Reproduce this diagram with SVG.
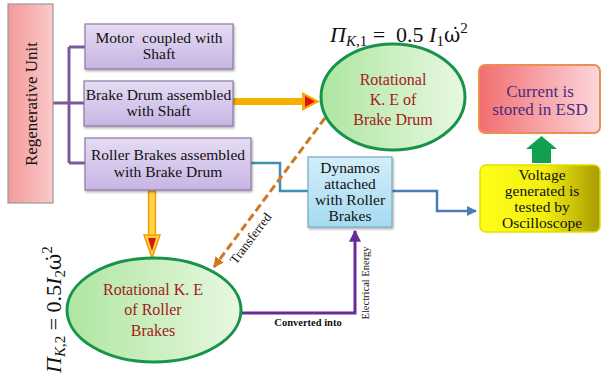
<svg xmlns="http://www.w3.org/2000/svg" width="601" height="378" viewBox="0 0 601 378" font-family="Liberation Serif, Times New Roman, serif">
  <defs>
    <linearGradient id="gPink" x1="0" y1="0" x2="1" y2="0">
      <stop offset="0" stop-color="#f39a9a"/>
      <stop offset="1" stop-color="#fbc9c9"/>
    </linearGradient>
    <linearGradient id="gLav" x1="0" y1="0" x2="0" y2="1">
      <stop offset="0" stop-color="#e6dcf4"/>
      <stop offset="1" stop-color="#c6b5e3"/>
    </linearGradient>
    <linearGradient id="gGreen" x1="0" y1="0" x2="1" y2="0">
      <stop offset="0" stop-color="#aee6a0"/>
      <stop offset="1" stop-color="#e8f8e2"/>
    </linearGradient>
    <linearGradient id="gRed" x1="0" y1="0" x2="1" y2="0">
      <stop offset="0" stop-color="#f26e6e"/>
      <stop offset="1" stop-color="#fcd6dc"/>
    </linearGradient>
    <linearGradient id="gYellow" x1="0" y1="0" x2="1" y2="0">
      <stop offset="0" stop-color="#ffff1a"/>
      <stop offset="0.55" stop-color="#f2ee10"/>
      <stop offset="1" stop-color="#a89a00"/>
    </linearGradient>
    <linearGradient id="gBlue" x1="0" y1="0" x2="0" y2="1">
      <stop offset="0" stop-color="#d2eefa"/>
      <stop offset="1" stop-color="#a6daf0"/>
    </linearGradient>
    <filter id="shadow" x="-10%" y="-10%" width="125%" height="130%">
      <feDropShadow dx="1" dy="1.5" stdDeviation="1" flood-color="#000" flood-opacity="0.35"/>
    </filter>
    <marker id="arrPurple" viewBox="0 0 10 10" refX="9" refY="5" markerWidth="4" markerHeight="4" orient="auto" markerUnits="strokeWidth">
      <path d="M0,0 L10,5 L0,10 z" fill="#6a2a9a"/>
    </marker>
    <marker id="arrBlue" viewBox="0 0 10 10" refX="9" refY="5" markerWidth="4" markerHeight="4" orient="auto" markerUnits="strokeWidth">
      <path d="M0,0 L10,5 L0,10 z" fill="#4a7ab8"/>
    </marker>
    <marker id="arrOrange" viewBox="0 0 10 10" refX="9" refY="5" markerWidth="3.5" markerHeight="3.5" orient="auto" markerUnits="strokeWidth">
      <path d="M0,0 L10,5 L0,10 z" fill="#d07820"/>
    </marker>
  </defs>
  <style>
    .box { font-size: 15.5px; fill: #111; text-anchor: middle; }
    .ell { font-size: 16px; fill: #a51a1a; text-anchor: middle; }
    .lav { fill: url(#gLav); stroke: #8a7aa6; stroke-width: 1.2; filter: url(#shadow); }
    .oval { fill: url(#gGreen); stroke: #17944a; stroke-width: 3; }
    .small { fill: #111; }
    .math { font-size: 22px; fill: #111; }
    .it { font-style: italic; }
    .sub { font-size: 15px; }
    .omega { font-family: "DejaVu Serif", serif; font-size: 20px; }
  </style>

  <!-- connectors -->
  <g id="connectors" fill="none">
    <!-- tree from the regenerative unit -->
    <path d="M53,103 H84 M69,47 V163 M69,47 H85 M69,163 H85" stroke="#7a5a9a" stroke-width="3"/>
    <!-- roller brakes to dynamos -->
    <path d="M251,163 H280 V191 H308" stroke="#3e90b0" stroke-width="2.5"/>
    <!-- dynamos to oscilloscope -->
    <path d="M392,191 H437 V211 H476" stroke="#4a7ab8" stroke-width="2.5" marker-end="url(#arrBlue)"/>
    <!-- converted into electrical energy -->
    <path d="M242,313 H355 V231" stroke="#6a2a9a" stroke-width="3" marker-end="url(#arrPurple)"/>
    <!-- transferred (dashed) -->
    <path d="M325,118 L214,267" stroke="#d07820" stroke-width="3" stroke-dasharray="8,4" marker-end="url(#arrOrange)"/>
    <!-- brake drum to rotational K.E of brake drum -->
    <rect x="233" y="98" width="70" height="7" fill="#f8b000"/>
    <polygon points="302,92 320,101.5 302,111" fill="#f8a800"/>
    <polygon points="305,96 315,101.5 305,107" fill="#e01010"/>
    <!-- roller brakes to rotational K.E of roller brakes -->
    <rect x="148.5" y="191" width="7" height="45" fill="#fcd24a" stroke="#f0a000" stroke-width="1.5"/>
    <polygon points="144,235 152,258 160,235" fill="#fcd24a" stroke="#f0a000" stroke-width="1.5"/>
    <polygon points="148,238 152,251 156,238" fill="#e01010"/>
    <!-- voltage to current -->
    <polygon points="532,163 551,163 551,149 557,149 541.5,136 526,149 532,149" fill="#10a050"/>
    <!-- connector labels -->
    <text class="small" transform="translate(254,241) rotate(-53)" text-anchor="middle" font-size="13">Transferred</text>
    <text class="small" x="308" y="326" text-anchor="middle" font-weight="bold" font-size="10.5">Converted into</text>
    <text class="small" transform="translate(369,283) rotate(-90)" text-anchor="middle" font-size="10.5">Electrical Energy</text>
  </g>

  <g id="regenerative-unit">
    <rect x="8" y="4" width="45" height="199" fill="url(#gPink)" stroke="#9a9a9a" stroke-width="1.2"/>
    <text transform="translate(37,104) rotate(-90)" font-size="17" fill="#111" text-anchor="middle">Regenerative Unit</text>
  </g>

  <g id="motor-shaft">
    <rect class="lav" x="85" y="24" width="148" height="45"/>
    <text class="box" x="159" y="43" xml:space="preserve">Motor  coupled with</text>
    <text class="box" x="159" y="59">Shaft</text>
  </g>

  <g id="drum-shaft">
    <rect class="lav" x="84" y="81" width="149" height="45"/>
    <text class="box" x="158.5" y="100">Brake Drum assembled</text>
    <text class="box" x="158.5" y="116">with Shaft</text>
  </g>

  <g id="roller-drum">
    <rect class="lav" x="85" y="138" width="166" height="52"/>
    <text class="box" x="168" y="160">Roller Brakes assembled</text>
    <text class="box" x="168" y="177">with Brake Drum</text>
  </g>

  <g id="ke-drum">
    <ellipse class="oval" cx="393" cy="97" rx="72" ry="53"/>
    <text class="ell" x="393" y="85">Rotational</text>
    <text class="ell" x="393" y="105">K. E of</text>
    <text class="ell" x="393" y="125">Brake Drum</text>
    <text class="math" x="330" y="42"><tspan class="it">Π</tspan><tspan class="it sub" dy="4">K</tspan><tspan class="sub">,1</tspan><tspan dy="-4" xml:space="preserve"> =  0.5 </tspan><tspan class="it">I</tspan><tspan class="sub" dy="4">1</tspan><tspan class="omega" dy="-4">ω̇</tspan><tspan class="sub" dy="-9">2</tspan></text>
  </g>

  <g id="ke-roller">
    <ellipse class="oval" cx="154" cy="310" rx="87" ry="52"/>
    <text class="ell" x="153" y="295">Rotational K. E</text>
    <text class="ell" x="153" y="315">of Roller</text>
    <text class="ell" x="153" y="336">Brakes</text>
    <text class="math" transform="translate(61,373) rotate(-90)"><tspan class="it">Π</tspan><tspan class="it sub" dy="4">K</tspan><tspan class="sub">,2</tspan><tspan dy="-4" xml:space="preserve"> = 0.5</tspan><tspan class="it">I</tspan><tspan class="sub" dy="4">2</tspan><tspan class="omega" dy="-4">ω̇</tspan><tspan class="sub" dy="-9">2</tspan></text>
  </g>

  <g id="dynamos">
    <rect x="308" y="157" width="84" height="70" fill="url(#gBlue)" stroke="#7aaac4" stroke-width="1.2" filter="url(#shadow)"/>
    <text class="box" x="350" y="173">Dynamos</text>
    <text class="box" x="350" y="189">attached</text>
    <text class="box" x="350" y="205">with Roller</text>
    <text class="box" x="350" y="221">Brakes</text>
  </g>

  <g id="esd">
    <rect x="479" y="65" width="121" height="68" rx="6" fill="url(#gRed)" stroke="#ec9050" stroke-width="2"/>
    <text x="540" y="97" font-size="17" fill="#4a2a82" text-anchor="middle">Current is</text>
    <text x="540" y="115" font-size="17" fill="#4a2a82" text-anchor="middle">stored in ESD</text>
  </g>

  <g id="oscilloscope">
    <rect x="480" y="165" width="120" height="67" rx="6" fill="url(#gYellow)" stroke="#e0e000" stroke-width="1.5"/>
    <text class="box" x="542" y="180" font-size="16">Voltage</text>
    <text class="box" x="542" y="196" font-size="16">generated is</text>
    <text class="box" x="542" y="212" font-size="16">tested by</text>
    <text class="box" x="542" y="228" font-size="16">Oscilloscope</text>
  </g>
</svg>
